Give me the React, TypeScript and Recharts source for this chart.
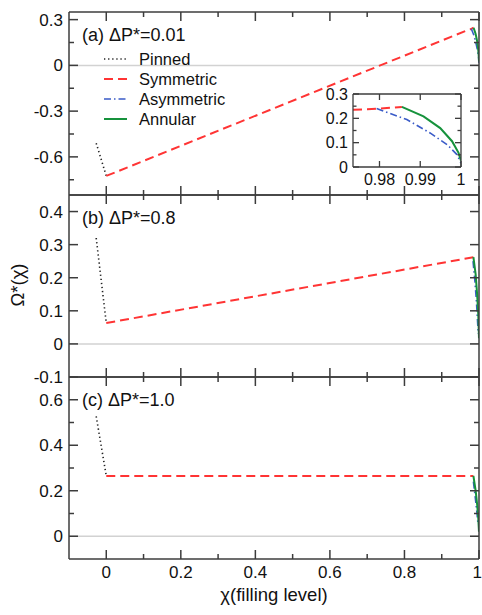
import React from 'react';
import { LineChart, Line, XAxis, YAxis, ReferenceLine, Legend } from 'recharts';

const W = 482;
const H = 615;
const PLOT_L = 69;
const PLOT_R = 479;
const PLOT_W = PLOT_R - PLOT_L;
const FONT = '"Liberation Sans", Arial, Helvetica, sans-serif';
const AXIS = '#3c3c3c';

const C_PIN = '#222222';
const C_SYM = '#ff3434';
const C_ASY = '#3a5bc8';
const C_ANN = '#16923c';

// x axis (filling level)
const xTicks = [0, 0.1, 0.2, 0.3, 0.4, 0.5, 0.6, 0.7, 0.8, 0.9, 1];
const xMajor = [0, 0.2, 0.4, 0.6, 0.8, 1];

// panel (a) dP = 0.01
const pinnedA = [{ x: -0.027, y: -0.51 }, { x: 0, y: -0.725 }];
const symA = [
  { x: 0, y: -0.725 }, { x: 0.9735, y: 0.235 }, { x: 0.977, y: 0.237 },
  { x: 0.98, y: 0.24 }, { x: 0.983, y: 0.244 }, { x: 0.9855, y: 0.247 },
];
const asymA = [
  { x: 0.9793, y: 0.24 }, { x: 0.9867, y: 0.195 }, { x: 0.9924, y: 0.14 },
  { x: 0.9966, y: 0.092 }, { x: 0.999, y: 0.051 }, { x: 1, y: 0.016 },
];
const annA = [
  { x: 0.9855, y: 0.247 }, { x: 0.9908, y: 0.208 }, { x: 0.9949, y: 0.16 },
  { x: 0.9978, y: 0.106 }, { x: 0.9994, y: 0.058 }, { x: 1, y: 0.026 },
];
const yTicksA = [0.3, 0.15, 0, -0.15, -0.3, -0.45, -0.6, -0.75];
const yMajorA = [0.3, 0, -0.3, -0.6];

// panel (b) dP = 0.8
const pinnedB = [{ x: -0.027, y: 0.32 }, { x: 0, y: 0.063 }];
const symB = [{ x: 0, y: 0.063 }, { x: 0.985, y: 0.262 }];
const asymB = [
  { x: 0.984, y: 0.25 }, { x: 0.989, y: 0.19 }, { x: 0.993, y: 0.13 },
  { x: 0.996, y: 0.07 }, { x: 0.998, y: 0.03 },
];
const annB = [
  { x: 0.985, y: 0.262 }, { x: 0.991, y: 0.21 }, { x: 0.995, y: 0.15 },
  { x: 0.998, y: 0.09 }, { x: 1, y: 0.017 },
];
const yTicksB = [0.4, 0.3, 0.2, 0.1, 0, -0.1];

// panel (c) dP = 1.0
const pinnedC = [{ x: -0.027, y: 0.527 }, { x: 0, y: 0.265 }];
const symC = [{ x: 0, y: 0.265 }, { x: 0.985, y: 0.265 }];
const asymC = [
  { x: 0.985, y: 0.24 }, { x: 0.99, y: 0.17 }, { x: 0.994, y: 0.11 }, { x: 0.997, y: 0.06 },
];
const annC = [
  { x: 0.985, y: 0.265 }, { x: 0.991, y: 0.2 }, { x: 0.995, y: 0.14 },
  { x: 0.998, y: 0.08 }, { x: 1, y: 0.02 },
];
const yTicksC = [0.6, 0.5, 0.4, 0.3, 0.2, 0.1, 0];
const yMajorC = [0.6, 0.4, 0.2, 0];

// inset (panel a, close to full)
const insetXTicks = [0.98, 0.99, 1];
const insetYTicks = [0, 0.05, 0.1, 0.15, 0.2, 0.25, 0.3];
const insetYMajor = [0, 0.1, 0.2, 0.3];

const series = [
  { name: 'Pinned', color: C_PIN, dash: '1.3 2.8', width: 1.6 },
  { name: 'Symmetric', color: C_SYM, dash: '9 5', width: 2 },
  { name: 'Asymmetric', color: C_ASY, dash: '7 3 1.5 3', width: 1.6 },
  { name: 'Annular', color: C_ANN, dash: undefined, width: 2 },
];

const isIn = (list: number[], v: number) => list.some(m => Math.abs(m - v) < 1e-9);

type LabelCfg = { major: number[]; font: number; gap: number; show: boolean; last?: number };

const makeXLabel = (c: LabelCfg) => (props: any) => {
  const v = props.payload.value;
  if (!c.show || !isIn(c.major, v)) return <g />;
  const atEnd = c.last !== undefined && Math.abs(v - c.last) < 1e-9;
  return (
    <text x={Number(props.x) + (atEnd ? 3 : 0)} y={Number(props.y) + c.gap} textAnchor={atEnd ? 'end' : 'middle'}
      fontSize={c.font} fontFamily={FONT} fill="#111">
      {String(v)}
    </text>
  );
};

const makeYLabel = (c: LabelCfg) => (props: any) => {
  const v = props.payload.value;
  if (!isIn(c.major, v)) return <g />;
  return (
    <text x={Number(props.x) - c.gap} y={Number(props.y)} dy="0.36em" textAnchor="end"
      fontSize={c.font} fontFamily={FONT} fill="#111">
      {String(v)}
    </text>
  );
};

// box frame plus inward tick marks on all four sides, as short reference segments
type Frame = {
  xDom: [number, number]; yDom: [number, number]; plotW: number; plotH: number;
  xT: number[]; xM: number[]; yT: number[]; yM: number[]; majLen: number; minLen: number; w: number;
};

const renderFrame = (f: Frame) => {
  const dx = (f.xDom[1] - f.xDom[0]) / f.plotW;
  const dy = (f.yDom[1] - f.yDom[0]) / f.plotH;
  const [x0, x1] = f.xDom;
  const [y0, y1] = f.yDom;
  const out: React.ReactNode[] = [
    <ReferenceLine key="fl" x={x0} stroke={AXIS} strokeWidth={f.w} ifOverflow="visible" />,
    <ReferenceLine key="fr" x={x1} stroke={AXIS} strokeWidth={f.w} ifOverflow="visible" />,
    <ReferenceLine key="fb" y={y0} stroke={AXIS} strokeWidth={f.w} ifOverflow="visible" />,
    <ReferenceLine key="ft" y={y1} stroke={AXIS} strokeWidth={f.w} ifOverflow="visible" />,
  ];
  f.yT.forEach(v => {
    const l = isIn(f.yM, v) ? f.majLen : f.minLen;
    out.push(<ReferenceLine key={`yl${v}`} segment={[{ x: x0, y: v }, { x: x0 + l * dx, y: v }]} stroke={AXIS} strokeWidth={f.w} ifOverflow="visible" />);
    out.push(<ReferenceLine key={`yr${v}`} segment={[{ x: x1 - l * dx, y: v }, { x: x1, y: v }]} stroke={AXIS} strokeWidth={f.w} ifOverflow="visible" />);
  });
  f.xT.forEach(v => {
    const l = isIn(f.xM, v) ? f.majLen : f.minLen;
    out.push(<ReferenceLine key={`xb${v}`} segment={[{ x: v, y: y0 }, { x: v, y: y0 + l * dy }]} stroke={AXIS} strokeWidth={f.w} ifOverflow="visible" />);
    out.push(<ReferenceLine key={`xt${v}`} segment={[{ x: v, y: y1 - l * dy }, { x: v, y: y1 }]} stroke={AXIS} strokeWidth={f.w} ifOverflow="visible" />);
  });
  return out;
};

const LegendBox = () => (
  <div style={{ fontFamily: FONT, fontSize: 16.5, color: '#111' }}>
    {series.map(s => (
      <div key={s.name} style={{ display: 'flex', alignItems: 'center', height: 20 }}>
        <svg width={23} height={6} style={{ display: 'block' }}>
          <line x1={0} x2={23} y1={3} y2={3} stroke={s.color} strokeWidth={s.width} strokeDasharray={s.dash} />
        </svg>
        <span style={{ marginLeft: 12, lineHeight: '20px' }}>{s.name}</span>
      </div>
    ))}
  </div>
);

const renderLines = (data: { x: number; y: number }[][]) =>
  series.map((s, i) => (
    <Line
      key={s.name}
      data={data[i]}
      dataKey="y"
      name={s.name}
      type="linear"
      stroke={s.color}
      strokeWidth={s.width}
      strokeDasharray={s.dash}
      dot={false}
      activeDot={false}
      isAnimationActive={false}
    />
  ));

type PanelProps = {
  top: number;
  bottom: number;
  yDomain: [number, number];
  yTicks: number[];
  yMajor: number[];
  xLabels: boolean;
  lines: { x: number; y: number }[][];
  legend?: boolean;
};

const Panel = ({ top, bottom, yDomain, yTicks, yMajor, xLabels, lines, legend }: PanelProps) => (
  <div style={{ position: 'absolute', left: 0, top: 0 }}>
    <LineChart width={W} height={H} margin={{ top, bottom: H - bottom - 1, left: 0, right: W - PLOT_R }}>
      <XAxis
        type="number" dataKey="x" domain={[-0.1, 1]} ticks={xTicks} interval={0} allowDataOverflow
        axisLine={false} tickLine={false} tickSize={0} tickMargin={0} height={1}
        tick={makeXLabel({ major: xMajor, font: 17, gap: 19, show: xLabels, last: 1 })}
      />
      <YAxis
        type="number" domain={yDomain} ticks={yTicks} interval={0} allowDataOverflow
        axisLine={false} tickLine={false} tickSize={0} tickMargin={0} width={PLOT_L}
        tick={makeYLabel({ major: yMajor, font: 17, gap: 6, show: true })}
      />
      <ReferenceLine y={0} stroke="#d2d2d2" strokeWidth={1.5} />
      {renderLines(lines)}
      {renderFrame({
        xDom: [-0.1, 1], yDom: yDomain, plotW: PLOT_W, plotH: bottom - top,
        xT: xTicks, xM: xMajor, yT: yTicks, yM: yMajor, majLen: 9, minLen: 5, w: 1.5,
      })}
      {legend && (
        <Legend
          layout="horizontal" verticalAlign="middle" align="center"
          wrapperStyle={{ top: 49, left: 104, width: 'auto', height: 'auto' }}
          content={() => <LegendBox />}
        />
      )}
    </LineChart>
  </div>
);

const Inset = () => (
  <div style={{ position: 'absolute', left: 300, top: 80 }}>
    <LineChart width={170} height={110} margin={{ top: 14, bottom: 22, left: 0, right: 9 }}>
      <XAxis
        type="number" dataKey="x" domain={[0.9735, 1]} ticks={insetXTicks} interval={0} allowDataOverflow
        axisLine={false} tickLine={false} tickSize={0} tickMargin={0} height={1}
        tick={makeXLabel({ major: insetXTicks, font: 16, gap: 18, show: true })}
      />
      <YAxis
        type="number" domain={[0, 0.3]} ticks={insetYTicks} interval={0} allowDataOverflow
        axisLine={false} tickLine={false} tickSize={0} tickMargin={0} width={53}
        tick={makeYLabel({ major: insetYMajor, font: 16, gap: 5, show: true })}
      />
      {renderLines([[], symA.slice(1), asymA, annA])}
      {renderFrame({
        xDom: [0.9735, 1], yDom: [0, 0.3], plotW: 108, plotH: 73,
        xT: insetXTicks, xM: insetXTicks, yT: insetYTicks, yM: insetYMajor, majLen: 6, minLen: 3.5, w: 1.3,
      })}
    </LineChart>
  </div>
);

const PanelLabel = ({ y, tag, value }: { y: number; tag: string; value: string }) => (
  <text x={82} y={y} fontSize={18} fontFamily={FONT} fill="#111">
    {`(${tag}) ΔP*=${value}`}
  </text>
);

export default function App() {
  return (
    <div style={{ position: 'absolute', left: 0, top: 0, width: W, height: H, background: '#fff', fontFamily: FONT }}>
      <Panel top={12} bottom={195} yDomain={[-0.85, 0.35]} yTicks={yTicksA} yMajor={yMajorA} xLabels={false}
        lines={[pinnedA, symA, asymA, annA]} legend />
      <Panel top={195} bottom={377} yDomain={[-0.1, 0.45]} yTicks={yTicksB} yMajor={yTicksB} xLabels={false}
        lines={[pinnedB, symB, asymB, annB]} />
      <Panel top={377} bottom={559} yDomain={[-0.1, 0.7]} yTicks={yTicksC} yMajor={yMajorC} xLabels
        lines={[pinnedC, symC, asymC, annC]} />
      <Inset />
      <svg width={W} height={H} style={{ position: 'absolute', left: 0, top: 0, pointerEvents: 'none' }}>
        <PanelLabel y={41} tag="a" value="0.01" />
        <PanelLabel y={224} tag="b" value="0.8" />
        <PanelLabel y={406} tag="c" value="1.0" />
        <text x={274} y={601} textAnchor="middle" fontSize={18.5} fontFamily={FONT} fill="#111">
          χ(filling level)
        </text>
        <text x={18} y={285} dy="0.35em" textAnchor="middle" fontSize={18.5} fontFamily={FONT} fill="#111"
          transform="rotate(-90 18 285)">
          Ω*(χ)
        </text>
      </svg>
    </div>
  );
}
